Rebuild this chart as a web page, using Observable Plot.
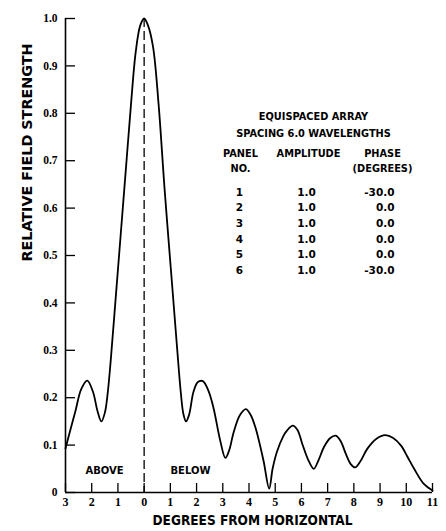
<!DOCTYPE html>
<html>
<head>
<meta charset="utf-8">
<script src="https://cdn.jsdelivr.net/npm/d3@7"></script>
<script src="https://cdn.jsdelivr.net/npm/@observablehq/plot@0.6"></script>
<style>
  html, body { margin: 0; padding: 0; background: #fff; }
  #chart { width: 446px; height: 531px; }
</style>
</head>
<body>
<div id="chart"></div>
<script>
// ---- Data ----
// Angle in degrees: negative = above horizontal, positive = below
const angle = [
  -3.0, -2.8, -2.62, -2.4, -2.17, -1.95, -1.78, -1.63, -1.5, -1.4, -1.28,
  -1.1, -0.9, -0.7, -0.5, -0.32, -0.15, 0.0, 0.15, 0.34, 0.55, 0.78, 1.05,
  1.25, 1.4, 1.5, 1.6, 1.72, 1.88, 2.05, 2.24, 2.45, 2.64, 2.9, 3.1, 3.25,
  3.4, 3.65, 3.88, 4.05, 4.24, 4.55, 4.77, 4.9, 5.06, 5.3, 5.44, 5.67, 5.85,
  6.03, 6.25, 6.47, 6.65, 6.86, 7.1, 7.31, 7.5, 7.69, 7.88, 8.05, 8.25, 8.51,
  8.85, 9.2, 9.5, 9.8, 10.05, 10.3, 10.67, 11.0
];
const fieldStrength = [
  0.093, 0.135, 0.172, 0.218, 0.236, 0.212, 0.172, 0.150, 0.168, 0.205, 0.275,
  0.40, 0.54, 0.68, 0.82, 0.93, 0.985, 1.0, 0.985, 0.94, 0.82, 0.64, 0.45,
  0.31, 0.21, 0.165, 0.150, 0.165, 0.212, 0.233, 0.235, 0.215, 0.18, 0.11, 0.073, 0.09,
  0.124, 0.163, 0.176, 0.165, 0.138, 0.068, 0.008, 0.05, 0.085, 0.118, 0.13, 0.141, 0.132,
  0.103, 0.07, 0.050, 0.068, 0.096, 0.115, 0.120, 0.108, 0.082, 0.06, 0.053, 0.066, 0.092,
  0.113, 0.121, 0.115, 0.099, 0.075, 0.05, 0.018, 0.004
];
const xTicks = [-3, -2, -1, 0, 1, 2, 3, 4, 5, 6, 7, 8, 9, 10, 11];
const yTicks = [0, 0.1, 0.2, 0.3, 0.4, 0.5, 0.6, 0.7, 0.8, 0.9, 1.0];

// Table in the chart
const tableTitle = ["EQUISPACED ARRAY", "SPACING 6.0 WAVELENGTHS"];
const panelNo = ["1", "2", "3", "4", "5", "6"];
const amplitude = ["1.0", "1.0", "1.0", "1.0", "1.0", "1.0"];
const phase = ["-30.0", "0.0", "0.0", "0.0", "0.0", "-30.0"];

const xTitle = "DEGREES FROM HORIZONTAL";
const yTitle = "RELATIVE FIELD STRENGTH";

// ---- Layout ----
const W = 446, H = 531, ML = 65, MR = 14, MT = 18, MB = 39;
const FW = W - ML - MR, FH = H - MT - MB;
// helpers to place annotation text at pixel positions
const fx = px => -3 + (px - ML) * 14 / FW;
const fy = py => (H - MB - py) / FH;

const curve = angle.map((a, i) => ({a, v: fieldStrength[i]}));
const rows = panelNo.map((p, i) => ({p, amp: amplitude[i], ph: phase[i], i}));

const lab = "DejaVu Sans";
const narrow = "Liberation Sans Narrow";
const cond = "DejaVu Sans Condensed";

const chart = Plot.plot({
  width: W, height: H,
  marginLeft: ML, marginRight: MR, marginTop: MT, marginBottom: MB,
  x: {domain: [-3, 11]},
  y: {domain: [0, 1]},
  style: {background: "#fff", color: "#000", fontFamily: lab},
  marks: [
    // axis lines
    Plot.ruleX([-3], {stroke: "#000", strokeWidth: 1.6}),
    Plot.ruleY([0], {stroke: "#000", strokeWidth: 1.6}),
    // inward ticks
    Plot.tickY(yTicks, {y: d => d, stroke: "#000", strokeWidth: 1.3, insetRight: FW - 10}),
    Plot.tickX(xTicks, {x: d => d, stroke: "#000", strokeWidth: 1.3, insetTop: FH - 9}),
    // tick labels
    Plot.axisY(yTicks, {tickSize: 0, tickPadding: 8, label: null,
      tickFormat: d => d === 0 ? "0" : d.toFixed(1),
      fontFamily: narrow, fontWeight: "bold", fontSize: 11.5}),
    Plot.axisX(xTicks, {tickSize: 0, tickPadding: 5, label: null,
      tickFormat: d => String(Math.abs(d)),
      fontFamily: narrow, fontWeight: "bold", fontSize: 12}),
    // dashed center line
    Plot.ruleX([0], {stroke: "#000", strokeWidth: 1.3, strokeDasharray: "9,4"}),
    // pattern curve
    Plot.line(curve, {x: "a", y: "v", curve: "catmull-rom", stroke: "#000", strokeWidth: 1.8}),
    // ABOVE / BELOW
    Plot.text(["ABOVE"], {x: fx(104), y: fy(470), text: d => d, fontWeight: "bold", fontSize: 10}),
    Plot.text(["BELOW"], {x: fx(190), y: fy(470), text: d => d, fontWeight: "bold", fontSize: 10}),
    // table titles
    Plot.text(tableTitle, {x: fx(313), y: (d, i) => fy(116 + i * 17), text: d => d, fontWeight: "bold", fontSize: 9.8}),
    Plot.text(["PANEL", "NO."], {x: fx(240), y: (d, i) => fy(153 + i * 15.5), text: d => d, fontWeight: "bold", fontSize: 9.8}),
    Plot.text(["AMPLITUDE"], {x: fx(308), y: fy(153), text: d => d, fontWeight: "bold", fontSize: 9.8}),
    Plot.text(["PHASE", "(DEGREES)"], {x: fx(382), y: (d, i) => fy(153 + i * 15.5), text: d => d, fontWeight: "bold", fontSize: 9.8}),
    // table rows
    Plot.text(rows, {x: fx(239), y: d => fy(192 + d.i * 15.6), text: "p", fontWeight: "bold", fontSize: 10.5}),
    Plot.text(rows, {x: fx(306), y: d => fy(192 + d.i * 15.6), text: "amp", fontWeight: 600, fontSize: 10.5}),
    Plot.text(rows, {x: fx(394), y: d => fy(192 + d.i * 15.6), text: "ph", textAnchor: "end", fontWeight: 600, fontSize: 10.5}),
    // axis titles
    Plot.text([xTitle], {frameAnchor: "bottom", dx: 3.5, dy: 32, text: d => d,
      fontFamily: cond, fontWeight: "bold", fontSize: 14.5}),
    Plot.text([yTitle], {frameAnchor: "left", dx: -37.5, dy: 6, rotate: -90, text: d => d,
      fontFamily: cond, fontWeight: "bold", fontSize: 13.5})
  ]
});

// fit the axis titles to the lettering lengths in the reference
d3.select(chart).selectAll("text").each(function() {
  const t = this.textContent;
  if (t === xTitle) { this.setAttribute("textLength", 200); this.setAttribute("lengthAdjust", "spacingAndGlyphs"); }
  if (t === yTitle) { this.setAttribute("textLength", 218); this.setAttribute("lengthAdjust", "spacingAndGlyphs"); }
});

document.getElementById("chart").appendChild(chart);
</script>
</body>
</html>
